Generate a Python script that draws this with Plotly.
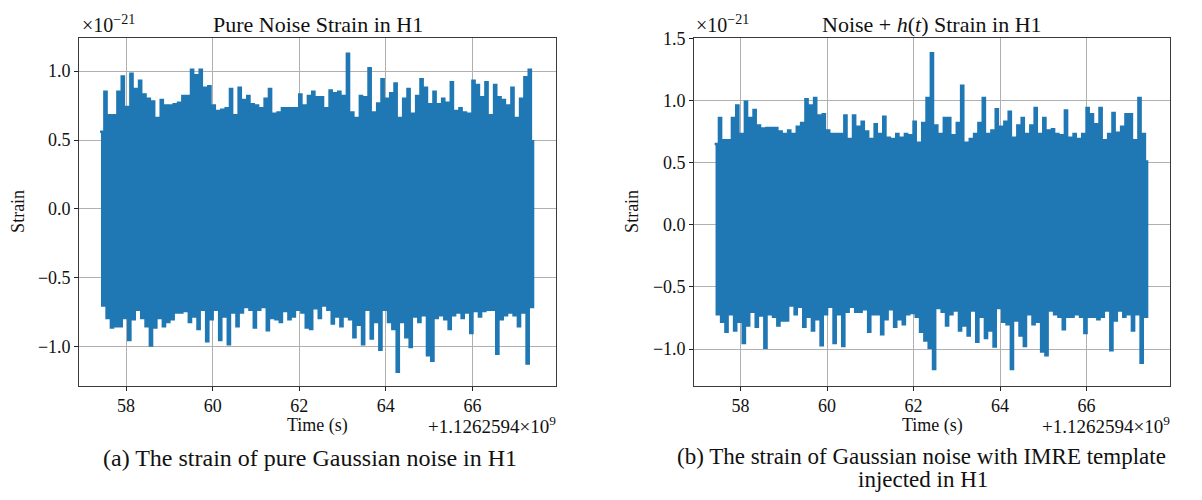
import numpy as np
import plotly.graph_objects as go

# ---------------- data (strain in units of 1e-21, time in s relative to 1.1262594e9) ----------------
t_start = 57.4
step = 0.1

# Pure noise (left panel): upper and lower excursions
noise_upper = [0.56, 0.85, 0.68, 0.68, 0.85, 0.96, 0.74, 0.98, 0.87, 0.93,
               0.83, 0.80, 0.78, 0.66, 0.79, 0.75, 0.75, 0.76, 0.77, 0.82,
               0.82, 1.01, 0.97, 1.01, 0.88, 0.89, 0.75, 0.71, 0.72, 0.73,
               0.87, 0.68, 0.88, 0.79, 0.82, 0.76, 0.75, 0.73, 0.80, 0.87,
               0.69, 0.70, 0.73, 0.73, 0.73, 0.73, 0.83, 0.75, 0.82, 0.85,
               0.81, 0.81, 0.73, 0.86, 0.84, 0.85, 0.82, 1.125, 0.70, 0.66,
               0.82, 0.81, 1.02, 0.70, 0.765, 0.94, 0.80, 0.84, 0.91, 0.66,
               0.80, 0.87, 0.69, 0.82, 0.94, 0.88, 0.76, 0.85, 0.76, 0.80,
               0.77, 0.92, 0.71, 0.73, 0.70, 0.69, 0.93, 0.90, 0.81, 0.92,
               0.68, 0.90, 0.81, 0.79, 0.75, 0.88, 0.66, 0.80, 0.955, 1.01,
               0.50]
noise_lower = [-0.70, -0.79, -0.86, -0.85, -0.85, -0.79, -0.95, -0.80, -0.73, -0.79,
               -0.85, -0.99, -0.86, -0.79, -0.85, -0.82, -0.80, -0.75, -0.75, -0.74,
               -0.82, -0.78, -0.87, -0.73, -0.96, -0.80, -0.73, -0.95, -0.78, -0.98,
               -0.75, -0.85, -0.75, -0.71, -0.73, -0.86, -0.73, -0.71, -0.88, -0.79,
               -0.80, -0.82, -0.74, -0.80, -0.78, -0.73, -0.75, -0.86, -0.87, -0.72,
               -0.79, -0.70, -0.73, -0.83, -0.78, -0.85, -0.78, -0.80, -0.93, -0.84,
               -0.98, -0.73, -0.94, -0.82, -1.02, -0.73, -0.82, -0.87, -1.18, -0.82,
               -0.93, -1.00, -0.78, -0.82, -0.77, -1.06, -1.10, -0.79, -0.77, -0.80,
               -0.87, -0.77, -0.75, -0.79, -0.75, -0.90, -0.74, -0.78, -0.74, -0.73,
               -0.73, -1.05, -0.80, -0.77, -0.75, -0.77, -0.85, -0.75, -1.12, -0.71]

# Noise + IMRE injection (right panel)
inj_upper = [0.65, 0.86, 0.68, 0.68, 0.86, 0.96, 0.73, 0.99, 0.86, 0.925,
             0.80, 0.775, 0.78, 0.78, 0.78, 0.75, 0.73, 0.76, 0.73, 0.79,
             0.82, 1.01, 0.96, 1.02, 0.88, 0.89, 0.76, 0.73, 0.73, 0.73,
             0.88, 0.69, 0.88, 0.79, 0.83, 0.75, 0.69, 0.81, 0.73, 0.87,
             0.70, 0.69, 0.73, 0.70, 0.73, 0.72, 0.83, 0.66, 0.82, 1.02,
             1.38, 0.80, 0.73, 0.86, 0.86, 0.72, 0.82, 1.12, 0.66, 0.69,
             0.73, 0.82, 1.02, 0.73, 0.76, 0.93, 0.79, 0.83, 0.91, 0.70,
             0.80, 0.86, 0.73, 0.80, 0.94, 0.73, 0.86, 0.76, 0.77, 0.73,
             0.72, 0.92, 0.70, 0.73, 0.69, 0.73, 0.94, 0.89, 0.81, 0.94,
             0.68, 0.73, 0.90, 0.74, 0.79, 0.89, 0.89, 0.68, 1.02, 0.73,
             0.52]
inj_lower = [-0.72, -0.78, -0.86, -0.72, -0.85, -0.78, -0.95, -0.81, -0.70, -0.82,
             -0.73, -0.99, -0.72, -0.74, -0.81, -0.77, -0.77, -0.65, -0.72, -0.66,
             -0.82, -0.74, -0.85, -0.76, -0.97, -0.72, -0.66, -0.95, -0.72, -0.975,
             -0.70, -0.66, -0.70, -0.70, -0.68, -0.86, -0.72, -0.72, -0.88, -0.76,
             -0.68, -0.82, -0.76, -0.80, -0.72, -0.71, -0.74, -0.86, -0.93, -0.99,
             -1.16, -0.67, -0.70, -0.81, -0.72, -0.69, -0.85, -0.81, -0.89, -0.69,
             -0.94, -0.74, -0.91, -0.85, -0.98, -0.67, -0.78, -0.80, -1.16, -0.77,
             -0.89, -0.975, -0.72, -0.80, -0.78, -1.02, -1.05, -0.69, -0.72, -0.74,
             -0.84, -0.74, -0.74, -0.72, -0.74, -0.87, -0.74, -0.74, -0.76, -0.74,
             -0.69, -1.01, -0.77, -0.69, -0.74, -0.72, -0.85, -0.72, -1.11, -0.74]

x_ticks = [58, 60, 62, 64, 66]
y_ticks_left = [-1.0, -0.5, 0.0, 0.5, 1.0]
y_ticks_right = [-1.0, -0.5, 0.0, 0.5, 1.0, 1.5]


def fmt(v):
    return f"{v:.1f}".replace("-", "\u2212")


def series(upper, lower):
    t_up = t_start + step * np.arange(len(upper))
    t_lo = t_start + step / 2 + step * np.arange(len(lower))
    xs, ys = [], []
    for i in range(len(upper)):
        xs.append(t_up[i]); ys.append(upper[i])
        if i < len(lower):
            xs.append(t_lo[i]); ys.append(lower[i])
    return xs, ys


BLUE = "#1f77b4"
FONT = "Liberation Serif"

fig = go.Figure()
xl, yl = series(noise_upper, noise_lower)
xr, yr = series(inj_upper, inj_lower)
fig.add_trace(go.Scatter(x=xl, y=yl, mode="lines", line=dict(color=BLUE, width=2.5, shape="hv"),
                         xaxis="x", yaxis="y", showlegend=False))
fig.add_trace(go.Scatter(x=xr, y=yr, mode="lines", line=dict(color=BLUE, width=2.5, shape="hv"),
                         xaxis="x2", yaxis="y2", showlegend=False))

W, H = 1202, 500
def px(X):
    return X / W
def py(Y):
    return 1 - Y / H

L1, R1 = 79.3, 556.0
L2, R2 = 694.3, 1170.0
TOP, BOT = 29.0, 383.3

axis_common = dict(showline=True, mirror=True, linecolor="#3a3a3a", linewidth=1.2,
                   ticks="outside", ticklen=4, tickwidth=1, tickcolor="#222",
                   showgrid=True, gridcolor="#b0b0b0", gridwidth=1, zeroline=False,
                   tickfont=dict(family=FONT, size=18, color="#111"))

fig.update_layout(
    width=W, height=H, margin=dict(l=0, r=0, t=0, b=0),
    paper_bgcolor="white", plot_bgcolor="white",
    xaxis=dict(domain=[px(L1), px(R1)], range=[56.92, 67.93], tickvals=x_ticks,
               ticktext=[str(v) for v in x_ticks], anchor="y", **axis_common),
    yaxis=dict(domain=[py(BOT), py(TOP)], range=[-1.281, 1.237], tickvals=y_ticks_left,
               ticktext=[fmt(v) for v in y_ticks_left], anchor="x", **axis_common),
    xaxis2=dict(domain=[px(L2), px(R2)], range=[56.93, 67.93], tickvals=x_ticks,
                ticktext=[str(v) for v in x_ticks], anchor="y2", **axis_common),
    yaxis2=dict(domain=[py(BOT), py(TOP)], range=[-1.294, 1.50], tickvals=y_ticks_right,
                ticktext=[fmt(v) for v in y_ticks_right], anchor="x2", **axis_common),
)

def ann(text, X, Y, size=18, xanchor="center", angle=0):
    fig.add_annotation(text=text, x=px(X), y=py(Y), xref="paper", yref="paper",
                       xanchor=xanchor, yanchor="middle", showarrow=False, textangle=angle,
                       font=dict(family=FONT, size=size, color="#111"))

# left panel texts
ann("\u00d710<sup>\u221221</sup>", 80, 14, size=20, xanchor="left")
ann("Pure Noise Strain in H1", (L1 + R1) / 2, 15, size=22)
ann("Strain", 18, 206, size=18, angle=-90)
ann("Time (s)", (L1 + R1) / 2, 424, size=18)
ann("+1.1262594\u00d710<sup>9</sup>", 558, 423, size=19, xanchor="right")
ann("(a) The strain of pure Gaussian noise in H1", 310, 457, size=24)

# right panel texts
ann("\u00d710<sup>\u221221</sup>", 694, 14, size=20, xanchor="left")
ann("Noise + <i>h</i>(<i>t</i>) Strain in H1", (L2 + R2) / 2, 15, size=22)
ann("Strain", 632, 206, size=18, angle=-90)
ann("Time (s)", (L2 + R2) / 2, 424, size=18)
ann("+1.1262594\u00d710<sup>9</sup>", 1172, 423, size=19, xanchor="right")
ann("(b) The strain of Gaussian noise with IMRE template", 921, 456, size=23)
ann("injected in H1", 923, 479, size=23)

fig.write_html("out.html")
